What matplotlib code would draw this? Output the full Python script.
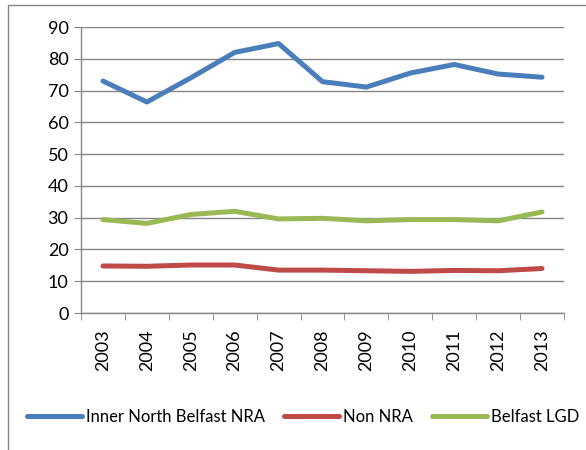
import numpy as np
import matplotlib
matplotlib.use("Agg")
import matplotlib.pyplot as plt
from matplotlib.patches import Rectangle

plt.rcParams['font.family'] = ['Lato', 'DejaVu Sans']

years = ['2003', '2004', '2005', '2006', '2007', '2008', '2009', '2010', '2011', '2012', '2013']
inner_north = [73.0, 66.4, 74.0, 82.0, 84.8, 72.8, 71.1, 75.5, 78.2, 75.2, 74.2]
non_nra = [14.8, 14.7, 15.1, 15.1, 13.5, 13.5, 13.3, 13.1, 13.4, 13.3, 14.0]
belfast_lgd = [29.4, 28.2, 31.0, 32.0, 29.6, 29.8, 29.0, 29.4, 29.4, 29.0, 31.8]

fig = plt.figure(figsize=(5.86, 4.5), dpi=100)
ax = fig.add_axes([81/586, 1 - 313/450, (564 - 81)/586, (313 - 27)/450])

x = np.arange(len(years))
ax.plot(x, inner_north, color='#4a7ebb', lw=3.6, label='Inner North Belfast NRA', solid_capstyle='round')
ax.plot(x, non_nra, color='#be4b48', lw=3.6, label='Non NRA', solid_capstyle='round')
ax.plot(x, belfast_lgd, color='#98b954', lw=3.6, label='Belfast LGD', solid_capstyle='round')

ax.set_xlim(-0.5, len(years) - 0.5)
ax.set_ylim(0, 90)
ax.set_yticks(range(0, 91, 10))
ax.yaxis.grid(True, color='#868686', lw=1)
ax.set_axisbelow(True)

ax.set_xticks(x)
ax.set_xticklabels(years, rotation=90)
ax.set_xticks(np.arange(-0.5, len(years), 1), minor=True)
ax.tick_params(axis='x', which='major', length=0, pad=12, labelsize=13)
ax.tick_params(axis='x', which='minor', length=5, color='#868686', direction='out')
ax.tick_params(axis='y', length=5, color='#868686', labelsize=13, pad=4)

for s in ['top', 'right']:
    ax.spines[s].set_visible(False)
for s in ['left', 'bottom']:
    ax.spines[s].set_color('#868686')
    ax.spines[s].set_linewidth(1)

leg = fig.legend(loc='center', bbox_to_anchor=(303/586, 1 - 417/450), ncol=3, frameon=False,
                 fontsize=12, handlelength=3.3, columnspacing=1.15, handletextpad=0.25)

# outer chart border
fig.patches.append(Rectangle((8/586, -0.1), 1.2, 1.1 - 5/450, transform=fig.transFigure,
                             fill=False, edgecolor='#868686', lw=1, clip_on=False))

fig.savefig('out.png', dpi=100)
